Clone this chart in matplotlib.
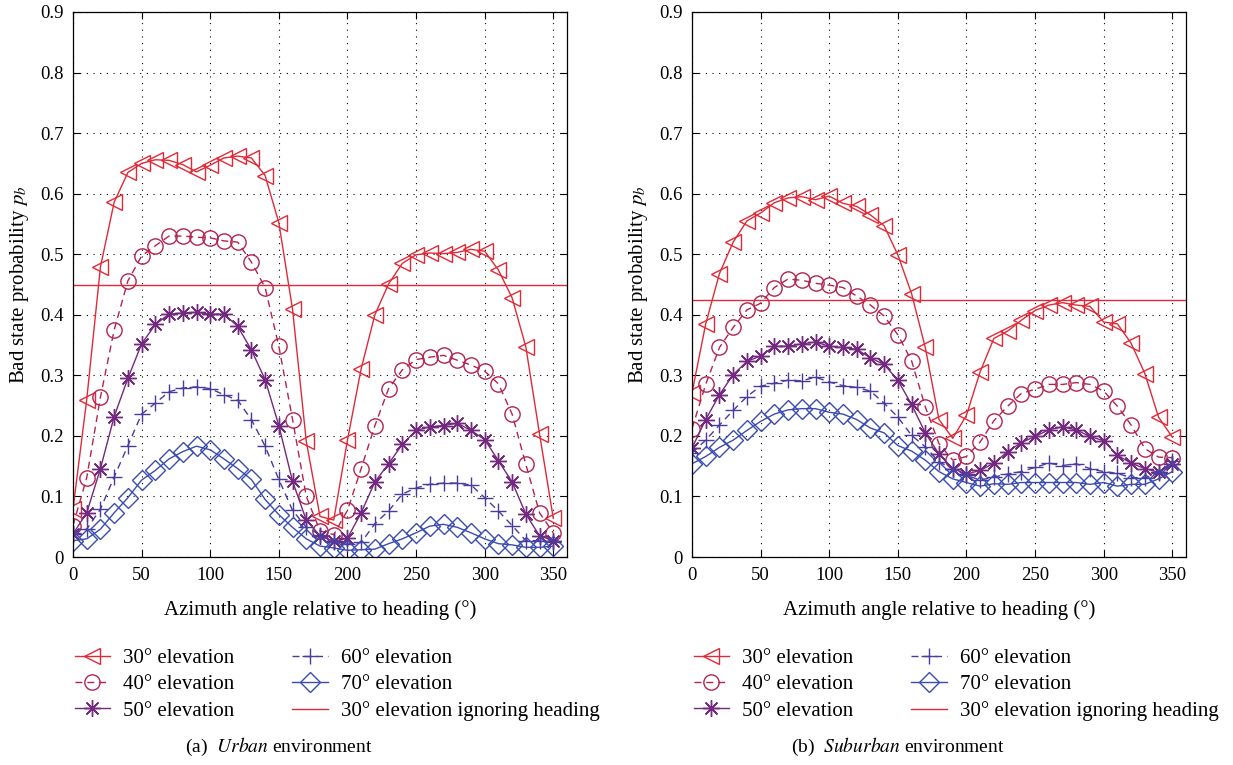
import matplotlib.pyplot as plt
import numpy as np

plt.rcParams['font.family'] = ['Liberation Serif', 'DejaVu Serif']
plt.rcParams['mathtext.fontset'] = 'stix'

# azimuth samples (degrees)
azimuth = np.arange(0, 360, 10)

# urban environment, bad state probability per elevation
urban_30 = [0.079, 0.26, 0.479, 0.586, 0.635, 0.65, 0.656, 0.655, 0.648, 0.636,
            0.647, 0.659, 0.662, 0.659, 0.63, 0.552, 0.409, 0.191, 0.067, 0.061,
            0.193, 0.311, 0.40, 0.451, 0.485, 0.499, 0.502, 0.501, 0.503, 0.508,
            0.505, 0.474, 0.428, 0.347, 0.203, 0.064]
urban_40 = [0.052, 0.131, 0.264, 0.375, 0.456, 0.497, 0.514, 0.53, 0.53, 0.528,
            0.527, 0.522, 0.52, 0.487, 0.445, 0.348, 0.227, 0.10, 0.043, 0.037,
            0.077, 0.146, 0.217, 0.278, 0.309, 0.326, 0.33, 0.333, 0.325, 0.317,
            0.307, 0.286, 0.236, 0.153, 0.073, 0.04]
urban_50 = [0.038, 0.073, 0.146, 0.232, 0.295, 0.352, 0.384, 0.401, 0.403, 0.404,
            0.401, 0.401, 0.381, 0.342, 0.293, 0.217, 0.125, 0.061, 0.035, 0.026,
            0.031, 0.073, 0.124, 0.154, 0.186, 0.209, 0.215, 0.217, 0.221, 0.209,
            0.194, 0.159, 0.124, 0.071, 0.035, 0.027]
urban_60 = [0.04, 0.046, 0.079, 0.132, 0.184, 0.236, 0.254, 0.273, 0.279, 0.281,
            0.278, 0.268, 0.259, 0.227, 0.183, 0.128, 0.077, 0.049, 0.037, 0.024,
            0.021, 0.024, 0.055, 0.076, 0.104, 0.114, 0.12, 0.122, 0.122, 0.119,
            0.098, 0.076, 0.052, 0.027, 0.027, 0.024]
urban_70 = [0.027, 0.03, 0.046, 0.073, 0.098, 0.127, 0.143, 0.162, 0.174, 0.183,
            0.177, 0.162, 0.146, 0.128, 0.095, 0.07, 0.049, 0.03, 0.018, 0.015,
            0.011, 0.012, 0.013, 0.022, 0.03, 0.04, 0.051, 0.054, 0.049, 0.04,
            0.03, 0.022, 0.02, 0.016, 0.016, 0.018]
urban_flat = 0.45

# suburban environment
suburban_30 = [0.271, 0.385, 0.468, 0.52, 0.555, 0.568, 0.585, 0.593, 0.595, 0.59,
               0.596, 0.584, 0.579, 0.565, 0.547, 0.499, 0.435, 0.346, 0.227, 0.196,
               0.234, 0.306, 0.361, 0.373, 0.391, 0.407, 0.416, 0.42, 0.416, 0.414,
               0.388, 0.385, 0.353, 0.303, 0.231, 0.198]
suburban_40 = [0.212, 0.285, 0.346, 0.379, 0.408, 0.419, 0.445, 0.459, 0.457, 0.452,
               0.449, 0.445, 0.431, 0.416, 0.398, 0.367, 0.324, 0.248, 0.187, 0.16,
               0.166, 0.19, 0.225, 0.249, 0.27, 0.277, 0.285, 0.285, 0.288, 0.285,
               0.274, 0.249, 0.218, 0.179, 0.165, 0.164]
suburban_50 = [0.18, 0.227, 0.268, 0.301, 0.323, 0.332, 0.348, 0.348, 0.352, 0.355,
               0.348, 0.346, 0.343, 0.329, 0.318, 0.292, 0.252, 0.205, 0.17, 0.146,
               0.137, 0.143, 0.155, 0.174, 0.189, 0.199, 0.21, 0.215, 0.21, 0.199,
               0.192, 0.168, 0.155, 0.146, 0.14, 0.154]
suburban_60 = [0.172, 0.193, 0.218, 0.242, 0.265, 0.282, 0.287, 0.292, 0.291, 0.297,
               0.289, 0.283, 0.28, 0.274, 0.254, 0.231, 0.201, 0.182, 0.157, 0.146,
               0.135, 0.127, 0.132, 0.137, 0.141, 0.148, 0.155, 0.151, 0.154, 0.146,
               0.141, 0.138, 0.131, 0.131, 0.138, 0.158]
suburban_70 = [0.154, 0.166, 0.181, 0.193, 0.209, 0.224, 0.236, 0.243, 0.245, 0.245,
               0.239, 0.236, 0.227, 0.213, 0.205, 0.184, 0.175, 0.16, 0.141, 0.129,
               0.123, 0.117, 0.121, 0.12, 0.123, 0.123, 0.123, 0.123, 0.123, 0.12,
               0.123, 0.117, 0.12, 0.12, 0.129, 0.141]
suburban_flat = 0.425

labels = ['30° elevation', '40° elevation', '50° elevation',
          '60° elevation', '70° elevation', '30° elevation ignoring heading']
captions = [('(a)', 'Urban'), ('(b)', 'Suburban')]

# style per elevation: colour, marker, linestyle, marker size
styles = [
    ('#e02a38', '<', '-', 12),
    ('#b3234f', 'o', (0, (5, 3.5)), 11),
    ('#74287f', (8, 2, 0), '-', 12),
    ('#4a3b9c', '+', (0, (5, 3.5)), 12),
    ('#3a4cb2', 'D', '-', 10.5),
]
flat_color = '#e02a38'

fig = plt.figure(figsize=(12.33, 7.65), dpi=100)

panels = [
    ([urban_30, urban_40, urban_50, urban_60, urban_70], urban_flat, 73, 279),
    ([suburban_30, suburban_40, suburban_50, suburban_60, suburban_70],
     suburban_flat, 692, 898),
]

for i, (series, flat, left_px, cap_px) in enumerate(panels):
    ax = fig.add_axes([left_px / 1233, (765 - 557) / 765, 494 / 1233, 545 / 765])
    handles = []
    for vals, (col, mk, ls, ms) in zip(series, styles):
        h, = ax.plot(azimuth, vals, color=col, linestyle=ls, linewidth=1.0,
                     marker=mk, markersize=ms, markerfacecolor='none',
                     markeredgecolor=col, markeredgewidth=1.0)
        handles.append(h)
    hl = ax.axhline(flat, color=flat_color, linewidth=1.0)
    handles.append(hl)

    ax.set_xlim(0, 360)
    ax.set_ylim(0, 0.9)
    ax.set_xticks(np.arange(0, 351, 50))
    ax.set_yticks(np.arange(0, 0.91, 0.1))
    ax.set_yticklabels(['0'] + ['%.1f' % v for v in np.arange(0.1, 0.91, 0.1)])
    ax.tick_params(direction='in', top=True, right=True, length=5, width=0.8,
                   labelsize=13.5, pad=7)
    ax.grid(True, color='black', linestyle=(0, (1, 5)), linewidth=0.8)
    for sp in ax.spines.values():
        sp.set_linewidth(0.9)
    ax.set_xlabel('Azimuth angle relative to heading (°)', fontsize=15, labelpad=12)
    ax.set_ylabel('Bad state probability $p_b$', fontsize=15, labelpad=6)

    fig.legend(handles, labels, ncol=2, loc='upper left',
               bbox_to_anchor=((left_px - 11) / 1233, 1 - 636 / 765),
               frameon=False, fontsize=15, handlelength=1.7, handletextpad=0.62,
               labelspacing=0.32, columnspacing=2.8, numpoints=1, borderpad=0.1)

    tag, word = captions[i]
    fig.text(cap_px / 1233, 1 - 747 / 765, tag + r'  $\mathit{' + word + r'}$ environment',
             ha='center', va='center', fontsize=14)

fig.savefig('out.png', dpi=100)
